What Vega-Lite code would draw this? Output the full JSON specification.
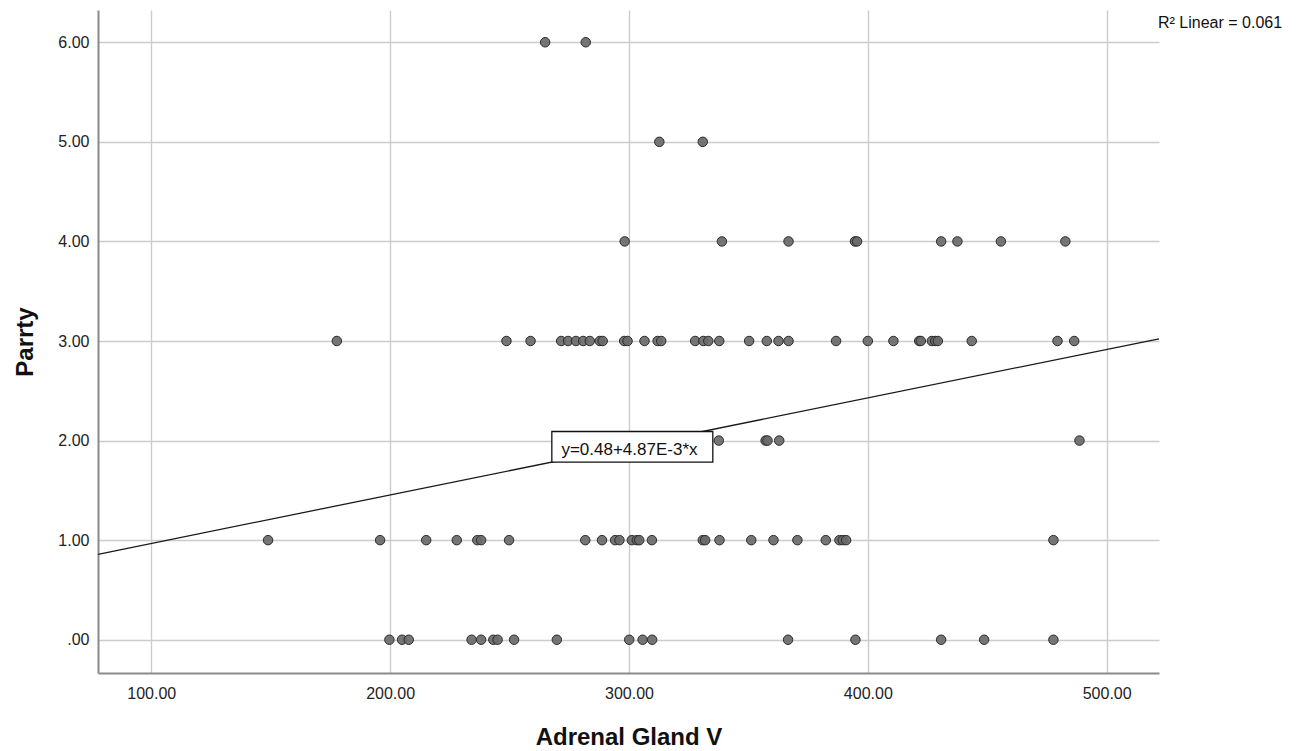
{
  "$schema": "https://vega.github.io/schema/vega-lite/v6.json",
  "width": 1061,
  "height": 663,
  "autosize": {"type": "none"},
  "padding": {"left": 98, "top": 10, "right": 148, "bottom": 78},
  "background": "white",
  "config": {
    "view": {"stroke": null},
    "font": "Liberation Sans",
    "axis": {
      "domainColor": "#8a8a8a",
      "domainWidth": 2,
      "gridColor": "#cccccc",
      "gridWidth": 1.4,
      "ticks": false,
      "tickSize": 0,
      "labelFontSize": 16,
      "labelColor": "#222222",
      "labelFont": "Liberation Sans",
      "titleFont": "Liberation Sans",
      "titleFontSize": 24,
      "titleFontWeight": "bold",
      "titleColor": "#111111"
    }
  },
  "datasets": {
    "points": [
      {"x": 264.9, "y": 6}, {"x": 281.9, "y": 6},
      {"x": 312.7, "y": 5}, {"x": 330.9, "y": 5},
      {"x": 298.2, "y": 4}, {"x": 338.9, "y": 4}, {"x": 366.8, "y": 4}, {"x": 394.6, "y": 4}, {"x": 395.5, "y": 4}, {"x": 430.7, "y": 4}, {"x": 437.5, "y": 4}, {"x": 455.7, "y": 4}, {"x": 482.7, "y": 4},
      {"x": 177.7, "y": 3}, {"x": 248.7, "y": 3}, {"x": 258.8, "y": 3}, {"x": 271.6, "y": 3}, {"x": 274.5, "y": 3}, {"x": 277.8, "y": 3}, {"x": 280.8, "y": 3}, {"x": 283.6, "y": 3}, {"x": 287.8, "y": 3}, {"x": 289.0, "y": 3}, {"x": 298.0, "y": 3}, {"x": 299.4, "y": 3}, {"x": 306.5, "y": 3}, {"x": 312.0, "y": 3}, {"x": 313.5, "y": 3}, {"x": 327.7, "y": 3}, {"x": 331.1, "y": 3}, {"x": 333.2, "y": 3}, {"x": 337.8, "y": 3}, {"x": 350.3, "y": 3}, {"x": 357.7, "y": 3}, {"x": 362.6, "y": 3}, {"x": 366.8, "y": 3}, {"x": 386.7, "y": 3}, {"x": 400.0, "y": 3}, {"x": 410.7, "y": 3}, {"x": 421.5, "y": 3}, {"x": 422.2, "y": 3}, {"x": 426.8, "y": 3}, {"x": 428.2, "y": 3}, {"x": 429.3, "y": 3}, {"x": 443.5, "y": 3}, {"x": 479.4, "y": 3}, {"x": 486.4, "y": 3},
      {"x": 337.6, "y": 2}, {"x": 357.2, "y": 2}, {"x": 358.0, "y": 2}, {"x": 362.9, "y": 2}, {"x": 488.6, "y": 2},
      {"x": 148.9, "y": 1}, {"x": 195.8, "y": 1}, {"x": 215.1, "y": 1}, {"x": 227.9, "y": 1}, {"x": 236.5, "y": 1}, {"x": 238.1, "y": 1}, {"x": 249.8, "y": 1}, {"x": 281.7, "y": 1}, {"x": 288.7, "y": 1}, {"x": 294.2, "y": 1}, {"x": 296.0, "y": 1}, {"x": 301.2, "y": 1}, {"x": 303.3, "y": 1}, {"x": 304.3, "y": 1}, {"x": 309.6, "y": 1}, {"x": 330.9, "y": 1}, {"x": 331.9, "y": 1}, {"x": 337.9, "y": 1}, {"x": 351.2, "y": 1}, {"x": 360.5, "y": 1}, {"x": 370.5, "y": 1}, {"x": 382.4, "y": 1}, {"x": 388.1, "y": 1}, {"x": 389.5, "y": 1}, {"x": 390.9, "y": 1}, {"x": 477.7, "y": 1},
      {"x": 199.7, "y": 0}, {"x": 205.0, "y": 0}, {"x": 207.8, "y": 0}, {"x": 234.1, "y": 0}, {"x": 238.1, "y": 0}, {"x": 243.2, "y": 0}, {"x": 245.0, "y": 0}, {"x": 251.9, "y": 0}, {"x": 269.8, "y": 0}, {"x": 300.1, "y": 0}, {"x": 305.7, "y": 0}, {"x": 309.7, "y": 0}, {"x": 366.6, "y": 0}, {"x": 394.8, "y": 0}, {"x": 430.7, "y": 0}, {"x": 448.7, "y": 0}, {"x": 477.7, "y": 0}
    ],
    "fit": [{"x": 77.7, "y": 0.858}, {"x": 521.9, "y": 3.022}],
    "box": [{"x": 267.7, "x2": 335.1, "y": 1.784, "y2": 2.091, "tx": 300.2, "ty": 1.857, "label": "y=0.48+4.87E-3*x"}],
    "r2": [{"x": 521.5, "y": 6.142, "label": "R² Linear = 0.061"}]
  },
  "layer": [
    {
      "data": {"name": "fit"},
      "mark": {"type": "line", "color": "#1a1a1a", "strokeWidth": 1.3},
      "encoding": {
        "x": {
          "field": "x", "type": "quantitative",
          "scale": {"domain": [77.7, 521.9], "nice": false, "zero": false},
          "axis": {"values": [100, 200, 300, 400, 500], "format": ".2f", "labelPadding": 12, "title": "Adrenal Gland V", "titlePadding": 24, "grid": true}
        },
        "y": {
          "field": "y", "type": "quantitative",
          "scale": {"domain": [-0.334, 6.324], "nice": false, "zero": false},
          "axis": {"values": [0, 1, 2, 3, 4, 5, 6], "labelExpr": "datum.value == 0 ? '.00' : format(datum.value, '.2f')", "labelPadding": 9, "title": "Parrty", "titlePadding": 20, "grid": true}
        }
      }
    },
    {
      "data": {"name": "points"},
      "mark": {"type": "circle", "size": 90, "fill": "#6a6a6a", "fillOpacity": 0.92, "stroke": "#2a2a2a", "strokeWidth": 1, "opacity": 1},
      "encoding": {
        "x": {"field": "x", "type": "quantitative"},
        "y": {"field": "y", "type": "quantitative"}
      }
    },
    {
      "data": {"name": "box"},
      "mark": {"type": "rect", "fill": "white", "stroke": "#111111", "strokeWidth": 1.3},
      "encoding": {
        "x": {"field": "x", "type": "quantitative"},
        "x2": {"field": "x2"},
        "y": {"field": "y", "type": "quantitative"},
        "y2": {"field": "y2"}
      }
    },
    {
      "data": {"name": "box"},
      "mark": {"type": "text", "fontSize": 17, "font": "Liberation Sans", "color": "#111111", "align": "center", "baseline": "alphabetic"},
      "encoding": {
        "x": {"field": "tx", "type": "quantitative"},
        "y": {"field": "ty", "type": "quantitative"},
        "text": {"field": "label"}
      }
    },
    {
      "data": {"name": "r2"},
      "mark": {"type": "text", "fontSize": 16, "font": "Liberation Sans", "color": "#111111", "align": "left", "baseline": "alphabetic"},
      "encoding": {
        "x": {"field": "x", "type": "quantitative"},
        "y": {"field": "y", "type": "quantitative"},
        "text": {"field": "label"}
      }
    }
  ]
}
